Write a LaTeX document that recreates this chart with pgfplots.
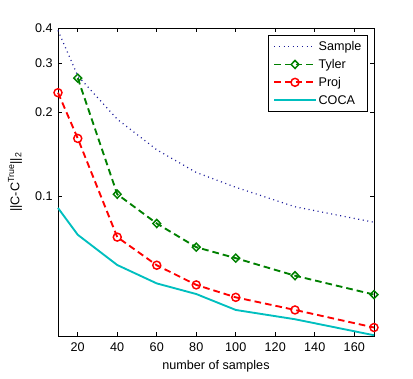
\documentclass[border=0pt]{standalone}
\usepackage{fontspec}
\setmainfont{Liberation Sans}
\usepackage{pgfplots}
\pgfplotsset{compat=1.18}
\definecolor{sampleblue}{rgb}{0.1,0.1,0.6}
\definecolor{tylergreen}{rgb}{0,0.5,0}
\definecolor{projred}{rgb}{1,0,0}
\definecolor{cocacyan}{rgb}{0,0.75,0.75}
\newcommand{\fs}{\fontsize{9.45pt}{11pt}\selectfont}
\begin{document}
\begin{tikzpicture}[font=\fs]
\begin{axis}[
  at={(0pt,0pt)}, anchor=south west,
  scale only axis, width=237pt, height=231pt,
  xmin=10, xmax=170, ymode=log, ymin=0.0318, ymax=0.4,
  xtick={20,40,...,160},
  ytick={0.1,0.2,0.3,0.4}, yticklabels={0.1,0.2,0.3,0.4},
  yminorticks=false,
  tick align=inside, major tick length=3pt,
  axis line style={line width=0.6pt},
  every tick/.style={black, line width=0.6pt},
  /pgf/number format/assume math mode=true,
  tick label style={font=\fs},
  xticklabel style={anchor=base, yshift=-11.25pt},
  yticklabel style={anchor=east, inner xsep=0pt, xshift=-3.75pt},
  label style={font=\fs},
  xlabel={number of samples},
  xlabel style={at={(axis description cs:0.5,0)}, anchor=base, yshift=-24.75pt},
  ylabel={||C-C\textsuperscript{True}||\textsubscript{2}},
  ylabel style={at={(axis description cs:-0.136,0.5)}, anchor=center},
  clip=false,
  legend style={at={(1,1)}, anchor=north east, xshift=-4.3pt, yshift=-5.25pt,
    draw=black, line width=0.6pt, font=\fs, inner xsep=3.4pt, inner ysep=3.8pt,
    row sep=4.2pt, nodes={inner xsep=1.5pt, inner ysep=0pt}, cells={anchor=west}},
  legend image code/.code={\draw[mark repeat=2,mark phase=2,#1] plot coordinates {(0pt,0pt) (15.5pt,0pt) (31pt,0pt)};},
]
\addplot[sampleblue, line width=0.9pt, dash pattern=on 0.75pt off 2.7pt] coordinates {
(10,0.392) (20,0.270) (40,0.189) (60,0.147) (80,0.122) (100,0.108) (130,0.092) (170,0.081)};
\addlegendentry{Sample\strut}
\addplot[tylergreen, line width=1.4pt, dash pattern=on 5pt off 3pt, mark=diamond, mark size=3pt, mark options={solid, xscale=1.3, line width=1.1pt}] coordinates {
(20,0.265) (40,0.102) (60,0.0802) (80,0.066) (100,0.0603) (130,0.0522) (170,0.0447)};
\addlegendentry{Tyler\strut}
\addplot[projred, line width=1.4pt, dash pattern=on 5pt off 3pt, mark=o, mark size=3pt, mark options={solid, line width=1.1pt}] coordinates {
(10,0.235) (20,0.1614) (40,0.0717) (60,0.0569) (80,0.0484) (100,0.0437) (130,0.0394) (170,0.0341)};
\addlegendentry{Proj\strut}
\addplot[cocacyan, line width=1.4pt] coordinates {
(10,0.0911) (20,0.0731) (40,0.057) (60,0.049) (80,0.0449) (100,0.0394) (130,0.0365) (170,0.0320)};
\addlegendentry{COCA\strut}
\end{axis}
\pgfresetboundingbox
\path[use as bounding box] (-43.5pt,-31.5pt) rectangle (266.25pt,252pt);
\end{tikzpicture}
\end{document}
